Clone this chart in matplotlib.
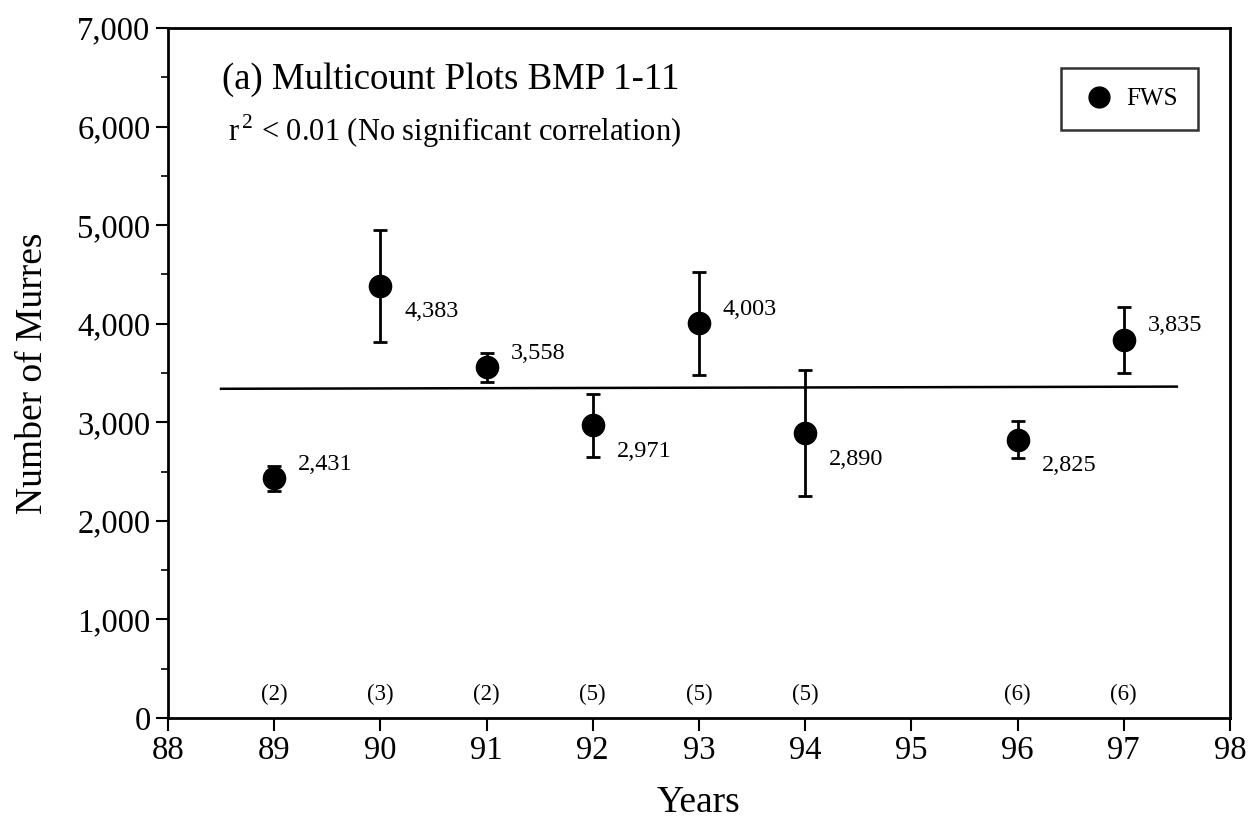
import matplotlib
matplotlib.use("Agg")
import matplotlib.pyplot as plt
from matplotlib.lines import Line2D
from matplotlib.ticker import FuncFormatter, MultipleLocator

plt.rcParams['font.family'] = ['Liberation Serif', 'DejaVu Serif']
plt.rcParams['mathtext.fontset'] = 'custom'
plt.rcParams['mathtext.rm'] = 'Liberation Serif'

# data
years = [89, 90, 91, 92, 93, 94, 96, 97]
murres = [2431, 4383, 3558, 2971, 4003, 2890, 2825, 3835]
errors = [130, 570, 150, 320, 520, 640, 185, 335]
n_plots = ["(2)", "(3)", "(2)", "(5)", "(5)", "(5)", "(6)", "(6)"]
label_above = [True, False, True, False, True, False, False, True]
fit_x = [88.5, 97.5]
fit_y = [3340, 3362]

fig = plt.figure(figsize=(12.58, 8.19), dpi=100)
ax = fig.add_axes([0.1335, 0.1233, 0.8442, 0.8425])

ax.plot(fit_x, fit_y, color='black', lw=1.8, zorder=2)
ax.errorbar(years, murres, yerr=errors, fmt='o', color='black', ms=16,
            elinewidth=2, capsize=5, capthick=2, zorder=3)

for x, y, above in zip(years, murres, label_above):
    dy = 14 if above else -26
    ax.annotate(f"{y:,}", (x, y), xytext=(24, dy), textcoords='offset pixels',
                fontsize=17.5, va='center', ha='left')

for x, n in zip(years, n_plots):
    ax.text(x, 240, n, fontsize=16.5, ha='center', va='center')

ax.text(88.51, 6473, "(a) Multicount Plots BMP 1-11", fontsize=26.5, va='center', ha='left')
ax.text(88.57, 5955, r"r$^{\,2}$ < 0.01 (No significant correlation)", fontsize=22,
        va='center', ha='left')

ax.set_xlim(88, 98)
ax.set_ylim(0, 7000)
ax.xaxis.set_major_locator(MultipleLocator(1))
ax.yaxis.set_major_locator(MultipleLocator(1000))
ax.yaxis.set_minor_locator(MultipleLocator(500))
ax.yaxis.set_major_formatter(FuncFormatter(lambda v, p: f"{int(v):,}"))

ax.tick_params(axis='both', which='major', direction='out', length=9, width=1.5,
               labelsize=23.5)
ax.tick_params(axis='y', which='minor', direction='out', length=5, width=1.2)
for sp in ax.spines.values():
    sp.set_linewidth(2)

ax.set_xlabel("Years", fontsize=27, labelpad=14)
ax.set_ylabel("Number of Murres", fontsize=27, labelpad=20)

handle = Line2D([], [], marker='o', ls='none', color='black', ms=15)
leg = ax.legend([handle], ['FWS'], loc='upper right', bbox_to_anchor=(0.9523, 0.917),
                bbox_transform=fig.transFigure, fancybox=False, fontsize=18,
                handletextpad=0.4, borderpad=0.8, handlelength=1.4, borderaxespad=0)
leg.get_frame().set_edgecolor('black')
leg.get_frame().set_linewidth(1.8)

fig.savefig("out.png", dpi=100)
